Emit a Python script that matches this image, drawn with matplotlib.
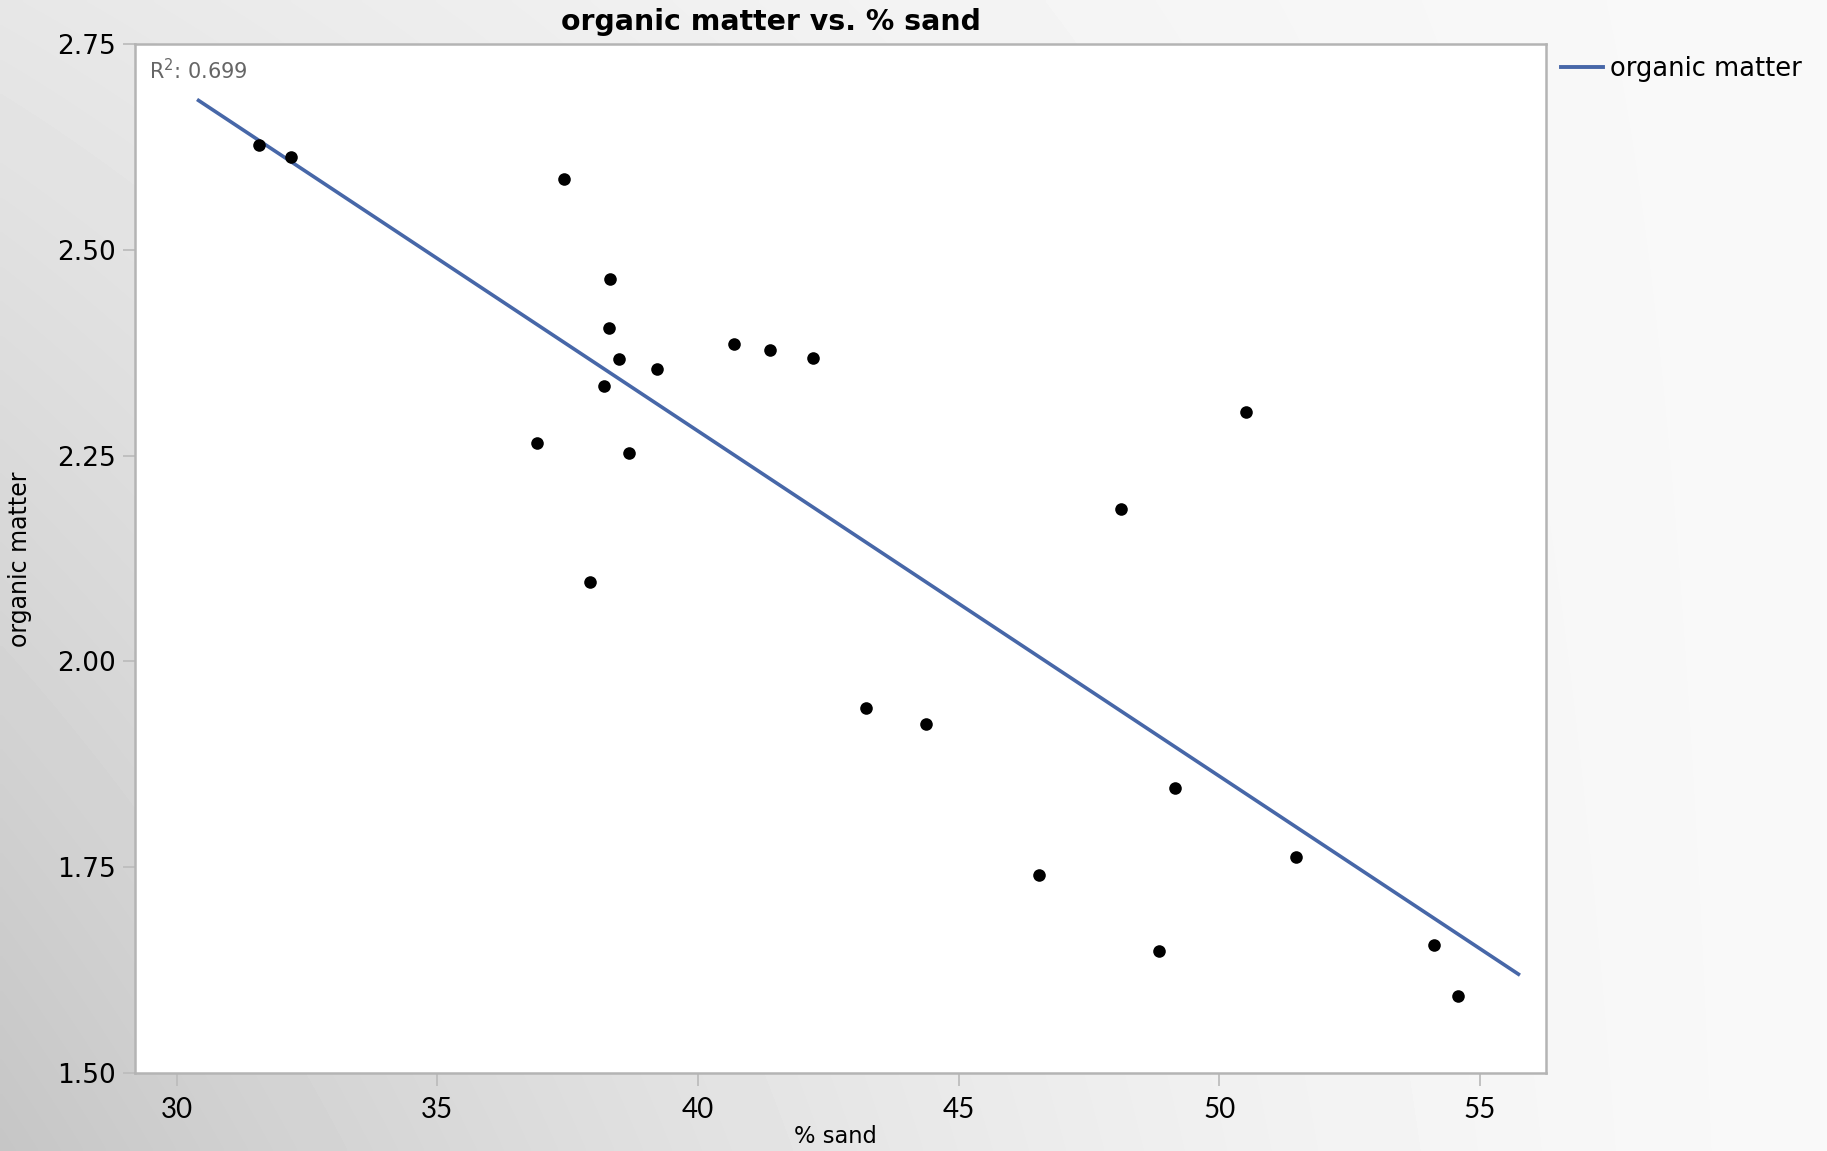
import numpy as np
import matplotlib
matplotlib.use("Agg")
import matplotlib.pyplot as plt
from matplotlib.lines import Line2D

# % sand and organic matter for each sampled plot
sand = [31.57, 32.19, 37.43, 38.32, 38.30, 38.48, 39.22, 38.19, 36.91, 38.68,
        37.92, 40.69, 41.39, 42.21, 50.51, 48.12, 43.22, 44.38, 49.15, 46.55,
        51.48, 48.84, 54.12, 54.59]
organic = [2.627, 2.613, 2.586, 2.464, 2.405, 2.367, 2.355, 2.334, 2.265, 2.253,
           2.096, 2.386, 2.378, 2.368, 2.303, 2.185, 1.943, 1.924, 1.846, 1.740,
           1.762, 1.648, 1.655, 1.594]
x_ticks = [30, 35, 40, 45, 50, 55]
y_ticks = [1.50, 1.75, 2.00, 2.25, 2.50, 2.75]
r2_label = "R$^2$: 0.699"

W, H, DPI = 1827, 1151, 100
fig = plt.figure(figsize=(W / DPI, H / DPI), dpi=DPI)

# soft grey gradient behind everything: darker toward the lower left
gx, gy = np.meshgrid(np.linspace(0, 1, 400), np.linspace(0, 1, 300))
shade = 0.975 - 0.20 * (1 - gx) ** 1.6 * (0.35 + 0.65 * gy)
bg = fig.add_axes([0, 0, 1, 1], zorder=-10)
bg.imshow(shade, cmap="gray", vmin=0, vmax=1, aspect="auto", extent=[0, 1, 0, 1],
          origin="upper", interpolation="bilinear")
bg.axis("off")

ax = fig.add_axes([0.0739, 0.0678, 0.8462 - 0.0739, 0.9618 - 0.0678])
ax.set_facecolor("white")

ax.scatter(sand, organic, s=82, color="black", zorder=3, linewidths=0)

# least-squares fit, drawn 5 % past the data range on each side
xs = np.array(sand)
slope, intercept = np.polyfit(xs, np.array(organic), 1)
span = xs.max() - xs.min()
fx = np.array([xs.min() - 0.05 * span, xs.max() + 0.05 * span])
ax.plot(fx, slope * fx + intercept, color="#4767a8", lw=2.6, zorder=2)

ax.set_xlim(29.2, 56.27)
ax.set_ylim(1.50, 2.75)
ax.set_xticks(x_ticks)
ax.set_yticks(y_ticks)
ax.set_xticklabels([str(t) for t in x_ticks], fontsize=20, family="Lato")
ax.set_yticklabels([f"{t:.2f}" for t in y_ticks], fontsize=19, family="DejaVu Sans")
ax.tick_params(axis="both", direction="out", length=9, width=1.3, color="#bdbdbd")
ax.tick_params(axis="x", pad=8)
ax.tick_params(axis="y", pad=5)
for s in ax.spines.values():
    s.set_color("#b4b4b4")
    s.set_linewidth(1.8)

ax.text(0.0099, 0.974, r2_label, transform=ax.transAxes, ha="left", va="center",
        fontsize=15, color="#666666", family="DejaVu Sans")

fig.text(0.422, 0.981, "organic matter vs. % sand", ha="center", va="center",
         fontsize=20.4, fontweight="bold", family="DejaVu Sans")
fig.text(0.457, 0.013, "% sand", ha="center", va="center", fontsize=16.3, family="DejaVu Sans")
fig.text(0.011, 0.514, "organic matter", ha="center", va="center", rotation=90,
         fontsize=17, family="DejaVu Sans")

handle = Line2D([], [], color="#4767a8", lw=2.8)
ax.legend([handle], ["organic matter"], loc="upper left", bbox_to_anchor=(1.0, 1.003),
          frameon=False, handlelength=1.6, handletextpad=0.3,
          borderaxespad=0.2, prop={"family": "DejaVu Sans", "size": 18.5})

fig.savefig("out.png", dpi=DPI)
